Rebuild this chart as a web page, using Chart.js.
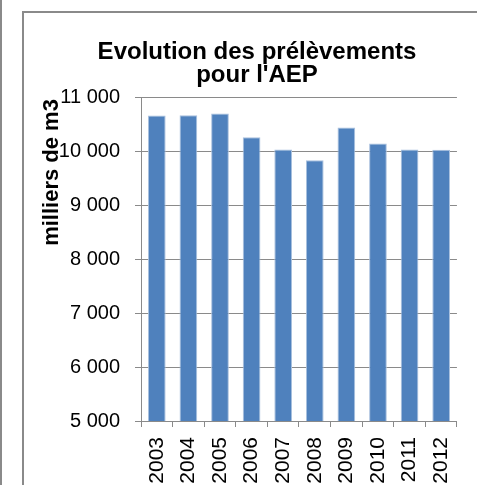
<!DOCTYPE html>
<html>
<head>
<meta charset="utf-8">
<script src="https://cdn.jsdelivr.net/npm/chart.js@4/dist/chart.umd.min.js"></script>
<style>
  html, body { margin: 0; padding: 0; background: #fff; overflow: hidden; }
  body { width: 477px; height: 485px; position: relative; }
  .edge { position: absolute; left: 0; top: 0; width: 2px; height: 485px; background: #8a8a8a; }
  .frame { position: absolute; left: 22px; top: 11px; width: 560px; height: 560px;
           border-left: 2px solid #8a8a8a; border-top: 2px solid #8a8a8a; }
  #chart { position: absolute; left: 0; top: 0; }
</style>
</head>
<body>
<div class="edge"></div>
<div class="frame"></div>
<canvas id="chart" width="477" height="485"></canvas>
<script>
// Prélèvements pour l'alimentation en eau potable (milliers de m3)
const years = ['2003', '2004', '2005', '2006', '2007', '2008', '2009', '2010', '2011', '2012'];
const volumes = [10660, 10665, 10695, 10255, 10030, 9830, 10435, 10140, 10030, 10025];
const titleLines = ['Evolution des prélèvements', "pour l'AEP"];
const yAxisTitle = 'milliers de m3';
const yMin = 5000;
const yMax = 11000;
const yStep = 1000;

const fmt = v => String(v).replace(/\B(?=(\d{3})+(?!\d))/g, ' ');
const grey = '#8a8a8a';
const family = '"Liberation Sans", Arial, sans-serif';

// Vertical axis caption: baseline just left of the tick labels, ending near the top of the plot
const axisCaption = {
  id: 'axisCaption',
  afterDraw(chart) {
    const { ctx, chartArea } = chart;
    ctx.save();
    ctx.translate(chartArea.left - 83, chartArea.top + 2);
    ctx.rotate(-Math.PI / 2);
    ctx.font = 'bold 22px ' + family;
    ctx.fillStyle = '#000';
    ctx.textAlign = 'right';
    ctx.textBaseline = 'alphabetic';
    ctx.fillText(yAxisTitle, 0, 0);
    ctx.restore();
  }
};

new Chart(document.getElementById('chart'), {
  type: 'bar',
  data: {
    labels: years,
    datasets: [{
      data: volumes,
      backgroundColor: '#4f81bd',
      borderColor: '#a9c0de',
      borderWidth: 1,
      categoryPercentage: 1,
      barPercentage: 0.56
    }]
  },
  options: {
    responsive: false,
    animation: false,
    layout: { padding: { left: 50, right: 13, top: 0, bottom: 0 } },
    plugins: {
      legend: { display: false },
      tooltip: { enabled: false },
      title: {
        display: true,
        text: titleLines,
        color: '#000',
        font: { family, size: 24, weight: 'bold', lineHeight: 0.95 },
        padding: { top: 41, bottom: 10.5 }
      }
    },
    scales: {
      x: {
        grid: { display: true, drawOnChartArea: false, drawTicks: true, tickLength: 6, offset: true, color: grey },
        border: { display: true, color: grey, width: 1 },
        ticks: { color: '#000', font: { family, size: 21 }, minRotation: 90, maxRotation: 90, padding: 10, autoSkip: false },
        afterFit: s => { s.height = 64; }
      },
      y: {
        min: yMin,
        max: yMax,
        grid: { color: grey, tickLength: 6, drawTicks: true },
        border: { display: true, color: grey, width: 1 },
        ticks: { stepSize: yStep, color: '#000', font: { family, size: 20 }, padding: 15, callback: v => fmt(v) },
        afterFit: s => { s.width = 91; }
      }
    }
  },
  plugins: [axisCaption]
});
</script>
</body>
</html>
